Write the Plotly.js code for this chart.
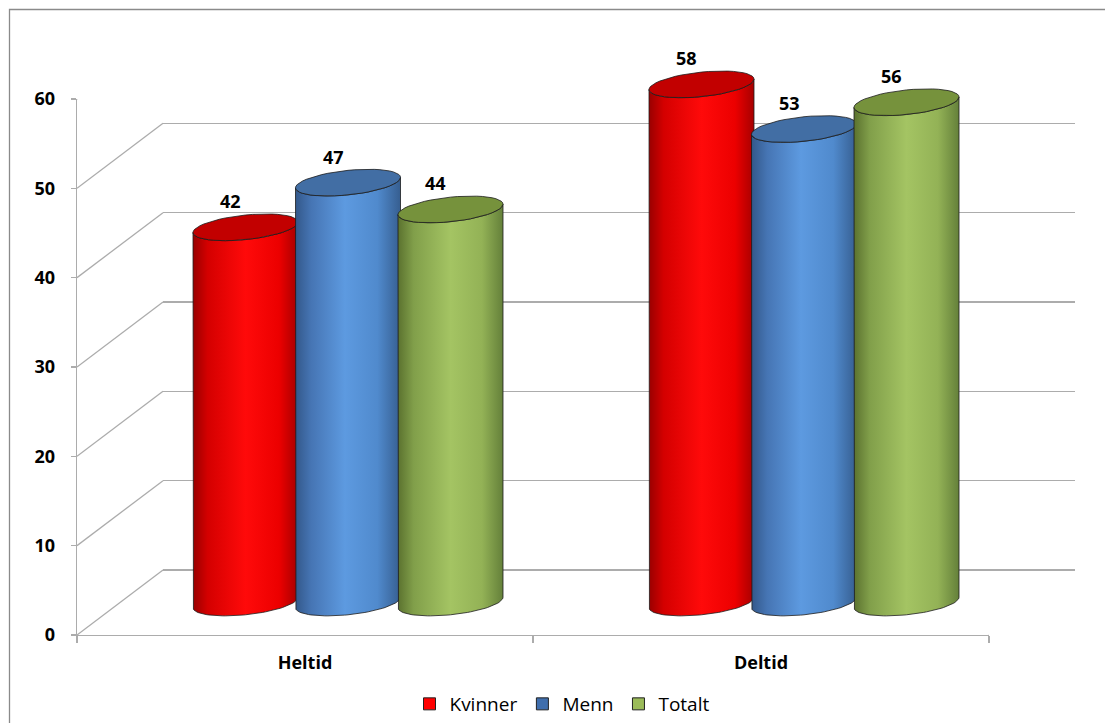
<!DOCTYPE html>
<html>
<head>
<meta charset="utf-8">
<script src="https://cdn.plot.ly/plotly-3.0.1.min.js"></script>
<style>
  html, body { margin: 0; padding: 0; background: #ffffff; }
  #chart { width: 1105px; height: 723px; }
</style>
</head>
<body>
<div id="chart"></div>
<script>
// ---- data ----
const categories = ['Heltid', 'Deltid'];
const seriesNames = ['Kvinner', 'Menn', 'Totalt'];
const kvinner = [42, 58];
const menn = [47, 53];
const totalt = [44, 56];
const yTicks = [0, 10, 20, 30, 40, 50, 60];
const yMax = 60;

// ---- geometry (pixels) ----
const W = 1105, H = 723;
const MARGIN = { l: 77, r: 30, t: 34, b: 88, autoexpand: false };
const PW = W - MARGIN.l - MARGIN.r;   // plotting area width
const PH = H - MARGIN.t - MARGIN.b;   // plotting area height
const DEPTH_X = 86, DEPTH_Y = 65;     // offset of the back wall from the front plane
const FW = PW - DEPTH_X, FH = PH - DEPTH_Y;
const pxPerX = FW / 2;                // two category slots
const pxPerY = FH / yMax;
const BELOW = 20;                     // room under the floor for the cylinder bases (px)

// cylinder proportions
const RAD = 52.5;      // half width
const RY = 12.3;       // half height of the end ellipses
const TILT = 0.1;      // perspective tilt of the ellipses
const SLOT = 102.5;    // distance between neighbouring cylinders
const N = 48;

const styles = [
  { body: [[0, '#990000'], [0.14, '#d40000'], [0.5, '#ff0a0a'], [0.82, '#ec0000'], [1, '#a60000']], top: '#c20000', legend: '#ff0000' },
  { body: [[0, '#33588a'], [0.15, '#4675b4'], [0.47, '#5d9ae0'], [0.78, '#508acd'], [1, '#365e90']], top: '#426ea4', legend: '#3f6ead' },
  { body: [[0, '#5b722f'], [0.15, '#819f4a'], [0.5, '#a4c463'], [0.8, '#93b256'], [1, '#64803a']], top: '#76923c', legend: '#9bbb59' }
];
const seriesValues = [kvinner, menn, totalt];

const OUTLINE = '#1c1c1c';
const GRID = '#acacac';
const FONT = 'Open Sans, Noto Sans, sans-serif';

function toData(cx, base, dx, dyUp) {
  return [cx + dx / pxPerX, base + dyUp / pxPerY];
}

function ellipse(cx, base, t0, t1, xs, ys) {
  for (let i = 0; i <= N; i++) {
    const t = t0 + (t1 - t0) * i / N;
    const dx = RAD * Math.cos(t);
    const dy = RY * Math.sin(t) + TILT * dx;
    const p = toData(cx, base, dx, dy);
    xs.push(p[0]); ys.push(p[1]);
  }
}

const traces = [];
const annotations = [];

// keeps the back-wall subplot alive
traces.push({ type: 'scatter', mode: 'lines', x: [null], y: [null], xaxis: 'x2', yaxis: 'y2', showlegend: false, hoverinfo: 'skip' });

categories.forEach((cat, ci) => {
  seriesValues.forEach((vals, si) => {
    const v = vals[ci];
    const cx = ci + (si - 1) * SLOT / pxPerX;
    const st = styles[si];

    // side wall: left edge, front half of the base, right edge, front half of the top
    const bx = [], by = [];
    let p = toData(cx, v, -RAD, -TILT * RAD); bx.push(p[0]); by.push(p[1]);
    ellipse(cx, 0, Math.PI, 2 * Math.PI, bx, by);
    ellipse(cx, v, 2 * Math.PI, Math.PI, bx, by);
    traces.push({
      type: 'scatter', mode: 'lines', xaxis: 'x3', yaxis: 'y3',
      x: bx, y: by, fill: 'toself',
      fillgradient: { type: 'horizontal', colorscale: st.body },
      line: { color: OUTLINE, width: 0.8 },
      hoverinfo: 'skip', showlegend: false
    });

    // top cap
    const tx = [], ty = [];
    ellipse(cx, v, 0, 2 * Math.PI, tx, ty);
    traces.push({
      type: 'scatter', mode: 'lines', xaxis: 'x3', yaxis: 'y3',
      x: tx, y: ty, fill: 'toself', fillcolor: st.top,
      line: { color: OUTLINE, width: 0.8 },
      hoverinfo: 'skip', showlegend: false
    });

    annotations.push({
      xref: 'x3', yref: 'y3', x: cx, y: v, text: String(v),
      showarrow: false, xshift: -15, yshift: 26,
      font: { family: FONT, size: 18, weight: 'bold', color: '#000000' }
    });
  });
});

// legend entries
seriesNames.forEach((name, si) => {
  traces.push({
    type: 'bar', name: name, x: [null], y: [null], xaxis: 'x', yaxis: 'y',
    marker: { color: styles[si].legend, line: { color: '#222222', width: 1 } },
    hoverinfo: 'skip'
  });
});

// grid connectors between the front axis and the back wall
const shapes = yTicks.map(v => ({
  type: 'line', xref: 'x', yref: 'y',
  xsizemode: 'pixel', xanchor: -0.5, x0: 0, x1: DEPTH_X,
  ysizemode: 'pixel', yanchor: v, y0: 0, y1: DEPTH_Y,
  line: { color: GRID, width: 1.3 }, layer: 'below'
}));
shapes.push({
  type: 'line', xref: 'x', yref: 'y',
  xsizemode: 'pixel', xanchor: 1.5, x0: 0, x1: DEPTH_X,
  ysizemode: 'pixel', yanchor: 0, y0: 0, y1: DEPTH_Y,
  line: { color: GRID, width: 1.3 }, layer: 'below'
});

// chart frame (top and left edges)
const px2x = px => (px - MARGIN.l) / PW;
const px2y = py => (H - MARGIN.b - py) / PH;
shapes.push({
  type: 'path', xref: 'paper', yref: 'paper',
  path: `M${px2x(9.5)},${px2y(730)} L${px2x(9.5)},${px2y(9.5)} L${px2x(1110)},${px2y(9.5)}`,
  line: { color: '#8a8a8a', width: 1.3 }
});

const tickFont = { family: FONT, size: 18, weight: 'bold', color: '#000000' };

// mid-depth plane, extended below the floor so the rounded bases are not clipped
const midLo = DEPTH_Y / 2 - BELOW, midHi = FH + DEPTH_Y / 2;

const layout = {
  width: W, height: H,
  margin: MARGIN,
  paper_bgcolor: '#ffffff', plot_bgcolor: 'rgba(0,0,0,0)',
  showlegend: true,
  barmode: 'group',
  legend: {
    orientation: 'h', x: px2x(562), xanchor: 'center',
    y: px2y(704), yanchor: 'middle',
    font: { family: FONT, size: 19, color: '#000000' },
    itemclick: false, itemdoubleclick: false
  },
  // front plane: value axis and category axis
  xaxis: {
    domain: [0, FW / PW], range: [-0.5, 1.5], anchor: 'y',
    tickvals: [0, 1], ticktext: categories, ticks: '',
    showline: true, linecolor: GRID, linewidth: 1.3,
    showgrid: false, zeroline: false,
    minor: { tickvals: [-0.5, 0.5, 1.5], ticks: 'outside', ticklen: 7, tickcolor: GRID, tickwidth: 1.3, showgrid: false },
    tickfont: tickFont, ticklabelstandoff: 11, fixedrange: true
  },
  yaxis: {
    domain: [0, FH / PH], range: [0, yMax], anchor: 'x',
    tickvals: yTicks, ticks: 'outside', ticklen: 5, tickcolor: GRID, tickwidth: 1.3,
    showline: true, linecolor: GRID, linewidth: 1.3,
    showgrid: false, zeroline: false,
    tickfont: tickFont, ticklabelstandoff: 12, fixedrange: true
  },
  // back wall gridlines
  xaxis2: { domain: [DEPTH_X / PW, 1], range: [-0.5, 1.5], anchor: 'y2', visible: false, fixedrange: true },
  yaxis2: {
    domain: [DEPTH_Y / PH, 1], range: [0, yMax], anchor: 'x2',
    tickvals: yTicks, showgrid: true, gridcolor: GRID, gridwidth: 1.3,
    zeroline: true, zerolinecolor: GRID, zerolinewidth: 1.3,
    showticklabels: false, ticks: '', showline: false, fixedrange: true
  },
  // mid-depth plane holding the cylinders
  xaxis3: { domain: [DEPTH_X / 2 / PW, (FW + DEPTH_X / 2) / PW], range: [-0.5, 1.5], anchor: 'y3', visible: false, fixedrange: true },
  yaxis3: { domain: [midLo / PH, midHi / PH], range: [-BELOW / pxPerY, yMax], anchor: 'x3', visible: false, fixedrange: true },
  shapes: shapes,
  annotations: annotations
};

Plotly.newPlot('chart', traces, layout, { displayModeBar: false, staticPlot: true });
</script>
</body>
</html>
